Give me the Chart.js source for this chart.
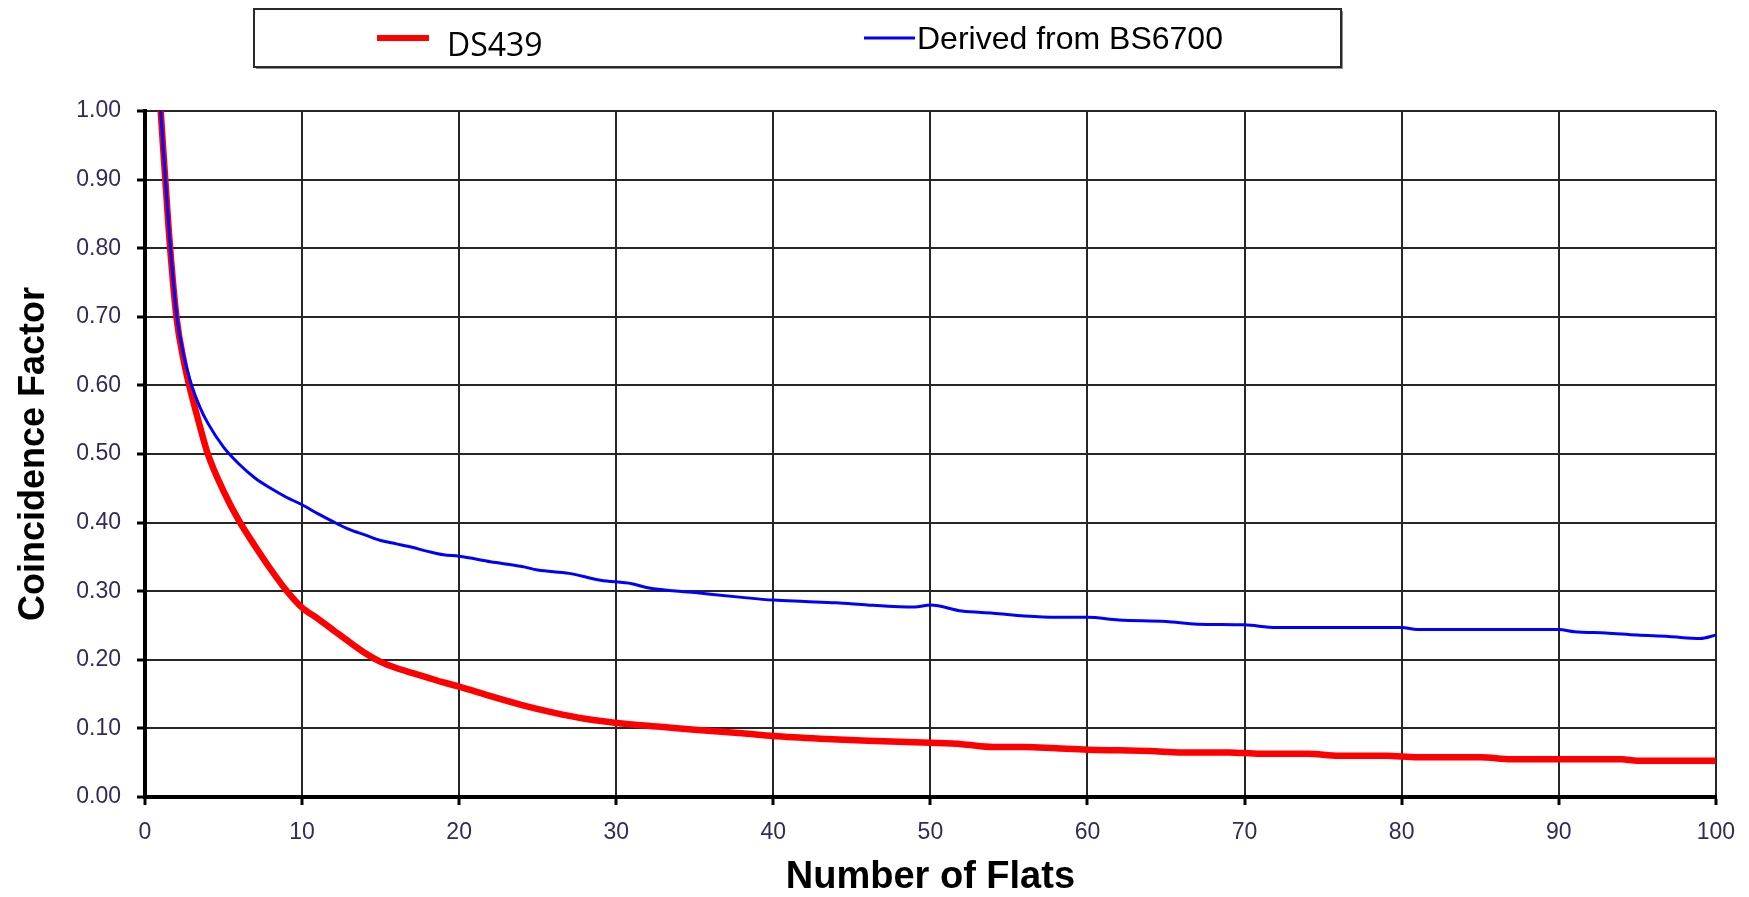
<!DOCTYPE html>
<html>
<head>
<meta charset="utf-8">
<script src="https://cdn.jsdelivr.net/npm/chart.js@4.4.1/dist/chart.umd.min.js"></script>
<style>
  html, body { margin: 0; padding: 0; background: #fff; }
  #wrap { position: relative; width: 1749px; height: 897px; }
</style>
</head>
<body>
<div id="wrap"><canvas id="cfChart"></canvas></div>
<script>
// DS439 curve (number of flats -> coincidence factor)
const FLATS_DS439 = [1, 1.5, 2, 2.5, 3, 3.5, 4, 5, 6, 7, 8, 9, 10, 11, 12, 13, 14, 15, 16, 17, 18, 19, 20,
  22, 24, 26, 28, 30, 33, 35, 38, 40, 43, 46, 50, 52, 54, 56, 58, 60, 62, 64, 66, 69, 71, 74, 76, 79, 81, 85, 87, 94, 95, 100];
const CF_DS439 = [1.00, 0.83, 0.70, 0.632, 0.583, 0.54, 0.50, 0.446, 0.402, 0.366, 0.332, 0.301, 0.276, 0.26, 0.243, 0.226, 0.21, 0.197, 0.188, 0.181, 0.174, 0.167, 0.161,
  0.147, 0.134, 0.123, 0.114, 0.108, 0.102, 0.098, 0.093, 0.089, 0.085, 0.082, 0.079, 0.077, 0.073, 0.073, 0.071, 0.069, 0.068, 0.067, 0.065, 0.065, 0.063, 0.063, 0.060, 0.060, 0.058, 0.058, 0.055, 0.055, 0.053, 0.053];

// Derived from BS6700
const FLATS_BS6700 = [1, 1.5, 2, 2.5, 3, 3.5, 4, 5, 6, 7, 8, 9, 10, 11, 12, 13, 14, 15, 16, 17, 18, 19, 20,
  22, 24, 25, 27, 29, 31, 32, 35, 38, 40, 42, 44, 46, 48, 49, 50, 52, 54, 56, 58, 60, 62, 65, 67, 70, 72, 80, 81, 90, 91, 93, 95, 97, 99, 100];
const CF_BS6700 = [1.00, 0.835, 0.705, 0.64, 0.598, 0.568, 0.545, 0.51, 0.485, 0.465, 0.45, 0.437, 0.426, 0.413, 0.401, 0.39, 0.382, 0.374, 0.369, 0.364, 0.358, 0.353, 0.351,
  0.343, 0.336, 0.331, 0.326, 0.316, 0.311, 0.305, 0.298, 0.291, 0.287, 0.285, 0.283, 0.280, 0.2775, 0.277, 0.280, 0.271, 0.268, 0.264, 0.262, 0.262, 0.258, 0.256, 0.252, 0.251, 0.247, 0.247, 0.244, 0.244, 0.241, 0.239, 0.236, 0.234, 0.231, 0.236];

const X_TICKS = [0, 10, 20, 30, 40, 50, 60, 70, 80, 90, 100];
const Y_TICKS = [0, 0.1, 0.2, 0.3, 0.4, 0.5, 0.6, 0.7, 0.8, 0.9, 1.0];

const SERIES_LABELS = ['DS439', 'Derived from BS6700'];

const toPoints = (xs, ys) => xs.map((x, i) => ({ x: x, y: ys[i] }));

const tickFont = { family: '"Liberation Sans", Arial, sans-serif', size: 23 };
const tickColor = '#352a55';

// legend box drawn above the plot, like the original
const legendBox = {
  id: 'legendBox',
  afterDraw(chart) {
    const c = chart.ctx;
    const ds = chart.data.datasets;
    c.save();
    c.fillStyle = '#8c8c8c';
    c.fillRect(256, 11, 1087, 58);
    c.fillStyle = '#ffffff';
    c.fillRect(254, 9, 1087, 58);
    c.strokeStyle = '#2a2a2a';
    c.lineWidth = 2;
    c.strokeRect(254, 9, 1087, 58);

    // DS439
    c.strokeStyle = ds[1].borderColor;
    c.lineWidth = 6;
    c.beginPath();
    c.moveTo(377, 38);
    c.lineTo(429, 38);
    c.stroke();
    c.fillStyle = '#000';
    c.font = '32px "Open Sans", "Liberation Sans", sans-serif';
    c.textAlign = 'left';
    c.textBaseline = 'alphabetic';
    c.fillText(ds[1].label, 447, 56);

    // BS6700
    c.strokeStyle = ds[0].borderColor;
    c.lineWidth = 3;
    c.beginPath();
    c.moveTo(864, 38);
    c.lineTo(915, 38);
    c.stroke();
    c.font = '32px "Liberation Sans", Arial, sans-serif';
    c.fillText(ds[0].label, 917, 49);
    c.restore();
  }
};

const ctx = document.getElementById('cfChart').getContext('2d');

new Chart(ctx, {
  type: 'line',
  data: {
    datasets: [
      {
        label: SERIES_LABELS[1],
        data: toPoints(FLATS_BS6700, CF_BS6700),
        borderColor: '#0000ff',
        borderWidth: 3,
        pointRadius: 0,
        cubicInterpolationMode: 'monotone',
        fill: false,
        clip: 0,
      },
      {
        label: SERIES_LABELS[0],
        data: toPoints(FLATS_DS439, CF_DS439),
        borderColor: '#ff0000',
        borderWidth: 6.5,
        pointRadius: 0,
        cubicInterpolationMode: 'monotone',
        fill: false,
        clip: 0,
      },
    ],
  },
  plugins: [legendBox],
  options: {
    responsive: true,
    maintainAspectRatio: false,
    animation: false,
    layout: { padding: { top: 111, right: 30, bottom: 0, left: 0 } },
    plugins: {
      legend: { display: false },
      tooltip: { enabled: false },
    },
    scales: {
      x: {
        type: 'linear',
        min: 0,
        max: 100,
        afterBuildTicks(scale) {
          scale.ticks = X_TICKS.map(v => ({ value: v }));
        },
        afterFit(scale) {
          scale.height = 100;
        },
        grid: { color: '#262626', lineWidth: 2, tickLength: 8, tickWidth: 3, tickColor: '#000' },
        border: { color: '#000', width: 4 },
        ticks: { font: tickFont, color: tickColor, padding: 14, maxRotation: 0 },
        title: {
          display: true,
          text: 'Number of Flats',
          color: '#000',
          font: { family: '"Liberation Sans", Arial, sans-serif', size: 38, weight: 'bold', lineHeight: 1 },
          padding: { top: 0, bottom: 0 },
        },
      },
      y: {
        min: 0,
        max: 1,
        afterBuildTicks(scale) {
          scale.ticks = Y_TICKS.map(v => ({ value: v }));
        },
        afterFit(scale) {
          scale.width = 145;
        },
        grid: { color: '#262626', lineWidth: 2, tickLength: 8, tickWidth: 3, tickColor: '#000' },
        border: { color: '#000', width: 4 },
        ticks: {
          font: tickFont,
          color: tickColor,
          padding: 16,
          callback: v => v.toFixed(2),
        },
        title: {
          display: true,
          text: 'Coincidence Factor',
          color: '#000',
          font: { family: '"Liberation Sans", Arial, sans-serif', size: 36, weight: 'bold', lineHeight: 1.2 },
          padding: { top: 12, bottom: 0 },
        },
      },
    },
  },
});
</script>
</body>
</html>
